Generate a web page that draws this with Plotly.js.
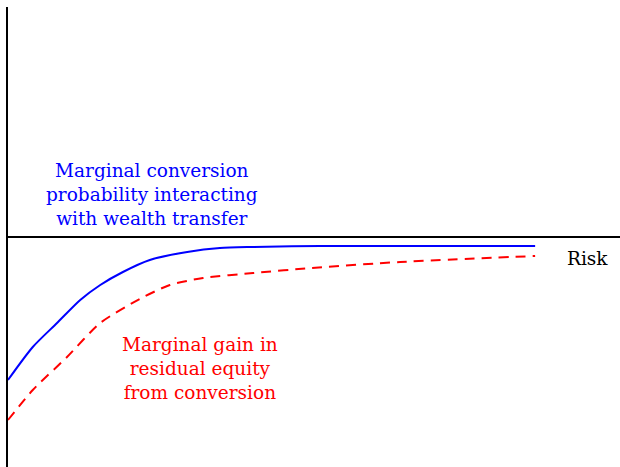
<!DOCTYPE html>
<html>
<head>
<meta charset="utf-8">
<script src="https://cdn.plot.ly/plotly-3.0.1.min.js"></script>
<style>
  html, body { margin: 0; padding: 0; background: #fff; }
  #chart { width: 620px; height: 467px; }
</style>
</head>
<body>
<div id="chart"></div>
<script>
// Risk on the horizontal axis (arbitrary units)
const riskConversion = [0, 0.047, 0.093, 0.137, 0.175, 0.218, 0.269, 0.340, 0.402, 0.465, 0.592, 1.0];
const marginalConversion = [-1.43, -1.10, -0.86, -0.63, -0.48, -0.35, -0.23, -0.15, -0.11, -0.10, -0.09, -0.09];

const riskEquity = [0, 0.047, 0.112, 0.175, 0.250, 0.307, 0.370, 0.465, 0.577, 0.744, 1.0];
const marginalEquity = [-1.83, -1.53, -1.20, -0.86, -0.62, -0.48, -0.41, -0.36, -0.31, -0.25, -0.19];

const labelConversion = "Marginal conversion<br>probability interacting<br>with wealth transfer";
const labelEquity = "Marginal gain in<br>residual equity<br>from conversion";
const labelRisk = "Risk";

const serif = "DejaVu Serif";

const traces = [
  {
    x: riskConversion, y: marginalConversion,
    mode: "lines", line: { color: "#0000ff", width: 2, shape: "spline", smoothing: 0.7 },
    hoverinfo: "skip"
  },
  {
    x: riskEquity, y: marginalEquity,
    mode: "lines", line: { color: "#ff0000", width: 2, dash: "10px,7px", shape: "spline", smoothing: 0.7 },
    hoverinfo: "skip"
  }
];

const layout = {
  width: 620, height: 467,
  margin: { l: 8, r: 0, t: 7, b: 0 },
  paper_bgcolor: "#fff", plot_bgcolor: "#fff",
  showlegend: false,
  xaxis: {
    range: [0, 1.161], showgrid: false, zeroline: false,
    showticklabels: false, ticks: "",
    showline: false
  },
  yaxis: {
    range: [-2.30, 2.30], showgrid: false,
    zeroline: true, zerolinecolor: "#000", zerolinewidth: 2,
    showticklabels: false, ticks: "",
    showline: true, linecolor: "#000", linewidth: 2
  },
  annotations: [
    { x: 0.273, y: 0.43, xref: "x", yref: "y", text: labelConversion, showarrow: false,
      font: { family: serif, size: 18.5, color: "#0000ff" }, align: "center" },
    { x: 0.364, y: -1.31, xref: "x", yref: "y", text: labelEquity, showarrow: false,
      font: { family: serif, size: 18.5, color: "#ff0000" }, align: "center" },
    { x: 1.10, y: -0.21, xref: "x", yref: "y", text: labelRisk, showarrow: false,
      font: { family: serif, size: 18.5, color: "#000" } }
  ]
};

Plotly.newPlot("chart", traces, layout, { staticPlot: true, displayModeBar: false });
</script>
</body>
</html>
